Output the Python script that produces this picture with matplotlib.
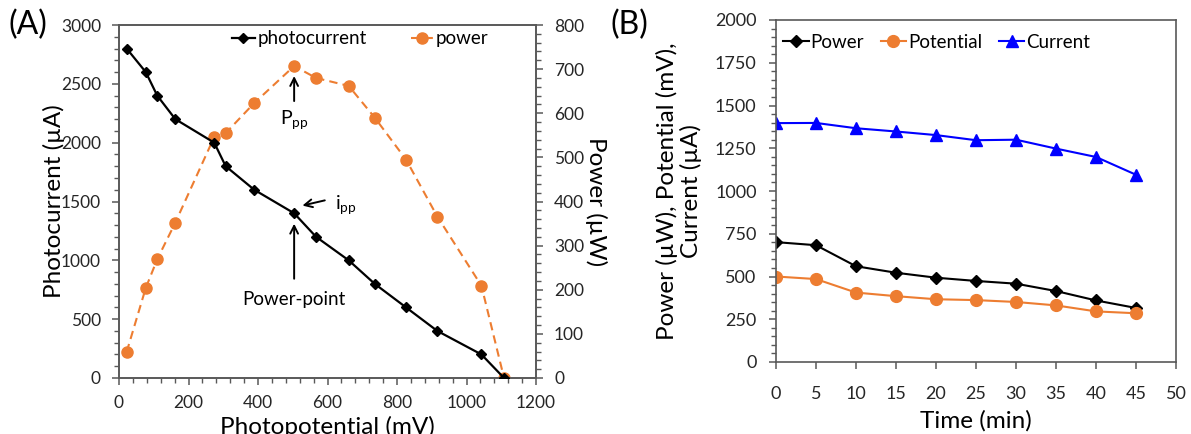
import matplotlib
matplotlib.use("Agg")
import matplotlib.pyplot as plt
from matplotlib.ticker import MultipleLocator

plt.rcParams['font.family'] = ['Lato', 'DejaVu Sans']

# Panel A data
photopotential = [22, 77, 110, 162, 274, 307, 389, 504, 567, 661, 736, 826, 916, 1043, 1108]
photocurrent = [2800, 2600, 2400, 2200, 2000, 1800, 1600, 1400, 1200, 1000, 800, 600, 400, 200, 0]
power_a = [59, 204, 269, 352, 546, 555, 623, 707, 680, 662, 590, 495, 366, 209, 0]

# Panel B data
time_min = [0, 5, 10, 15, 20, 25, 30, 35, 40, 45]
power_b = [701, 683, 560, 522, 493, 474, 458, 415, 360, 316]
potential_b = [500, 485, 406, 385, 367, 362, 351, 331, 296, 285]
current_b = [1397, 1398, 1367, 1348, 1327, 1297, 1300, 1248, 1199, 1095]

ORANGE = '#ED7D31'
BLUE = '#0000FF'
SPINE = '#595959'
LABEL_FS = 17.5

fig = plt.figure(figsize=(11.91, 4.34), dpi=100)

# ---------- Panel A ----------
ax = fig.add_axes([119/1191, 1-378/434, (536-119)/1191, (378-25)/434])
ax2 = ax.twinx()
l1, = ax.plot(photopotential, photocurrent, color='black', lw=1.6, marker='D',
              markersize=5.5, label='photocurrent', zorder=3)
l2, = ax2.plot(photopotential, power_a, color=ORANGE, lw=1.5, ls=(0, (4, 2.5)), marker='o',
               markersize=8, label='power', zorder=2)
ax.set_zorder(ax2.get_zorder() + 1)
ax.patch.set_visible(False)

ax.set_xlim(0, 1200)
ax.set_ylim(0, 3000)
ax2.set_ylim(0, 800)
ax.xaxis.set_major_locator(MultipleLocator(200))
ax.xaxis.set_minor_locator(MultipleLocator(40))
ax.yaxis.set_major_locator(MultipleLocator(500))
ax.yaxis.set_minor_locator(MultipleLocator(100))
ax2.yaxis.set_major_locator(MultipleLocator(100))
ax2.yaxis.set_minor_locator(MultipleLocator(20))

for a in (ax, ax2):
    for s in a.spines.values():
        s.set_color(SPINE)
        s.set_linewidth(1.2)
    a.tick_params(which='major', direction='out', length=5, width=1.1, color=SPINE,
                  labelsize=12.5, labelcolor='#262626')
    a.tick_params(which='minor', direction='out', length=3.5, width=1.0, color=SPINE)
ax.tick_params(axis='y', which='major', pad=8)
ax.tick_params(axis='x', which='major', pad=7)
ax2.tick_params(axis='y', which='both', right=True, left=False)
ax2.tick_params(axis='y', which='major', pad=8)

ax.set_xlabel('Photopotential (mV)', fontsize=LABEL_FS)
ax.set_ylabel('Photocurrent (µA)', fontsize=LABEL_FS)
ax2.set_ylabel('Power (µW)', fontsize=LABEL_FS, rotation=270)
ax.xaxis.label.set_va('center')
ax.yaxis.label.set_va('center')
ax2.yaxis.label.set_va('center')
ax.xaxis.set_label_coords(0.5, -0.139)
ax.yaxis.set_label_coords(-0.157, 0.5)
ax2.yaxis.set_label_coords(1.145, 0.5)

ax.legend(handles=[l1, l2], loc='upper left', bbox_to_anchor=(0.271, 0.985), ncol=2,
          frameon=False, fontsize=13.5, handlelength=1.2, handletextpad=0.15,
          columnspacing=2.35, borderpad=0, borderaxespad=0)

arrow = dict(arrowstyle='->', color='black', lw=1.4, mutation_scale=14)
ax.annotate('', xy=(504, 2590), xytext=(504, 2330), arrowprops=arrow)
ax.text(504, 2190, r'P$_{\mathregular{pp}}$', ha='center', va='center', fontsize=14)
ax.annotate('', xy=(520, 1460), xytext=(600, 1515), arrowprops=arrow)
ax.text(622, 1470, r'i$_{\mathregular{pp}}$', ha='left', va='center', fontsize=14)
ax.annotate('', xy=(504, 1335), xytext=(504, 820), arrowprops=arrow)
ax.text(504, 670, 'Power-point', ha='center', va='center', fontsize=13.5)

fig.text(8/1191, 1-25/434, '(A)', fontsize=23, ha='left', va='center')

# ---------- Panel B ----------
bx = fig.add_axes([776/1191, 1-362/434, (1176-776)/1191, (362-20)/434])
bx.plot(time_min, power_b, color='black', lw=1.5, marker='D', markersize=6, label='Power')
bx.plot(time_min, potential_b, color=ORANGE, lw=1.5, marker='o', markersize=8.5, label='Potential')
bx.plot(time_min, current_b, color=BLUE, lw=1.5, marker='^', markersize=8, label='Current')
bx.set_xlim(0, 50)
bx.set_ylim(0, 2000)
bx.xaxis.set_major_locator(MultipleLocator(5))
bx.yaxis.set_major_locator(MultipleLocator(250))
bx.yaxis.set_minor_locator(MultipleLocator(50))
for s in bx.spines.values():
    s.set_color(SPINE)
    s.set_linewidth(1.2)
bx.tick_params(which='major', direction='out', length=5, width=1.1, color=SPINE,
               labelsize=13, labelcolor='#262626')
bx.tick_params(which='minor', direction='out', length=3.5, width=1.0, color=SPINE)
bx.tick_params(axis='x', pad=12)
bx.tick_params(axis='y', which='major', pad=9)
bx.set_xlabel('Time (min)', fontsize=LABEL_FS)
bx.set_ylabel('Power (µW), Potential (mV),\nCurrent (µA)', fontsize=LABEL_FS,
              linespacing=1.15)
bx.xaxis.label.set_va('center')
bx.yaxis.label.set_va('center')
bx.xaxis.set_label_coords(0.5, -0.1725)
bx.yaxis.set_label_coords(-0.2425, 0.5)
bx.legend(loc='upper left', bbox_to_anchor=(0.018, 0.96), ncol=3, frameon=False,
          fontsize=13.5, handlelength=1.35, handletextpad=0.1, columnspacing=0.9,
          borderpad=0, borderaxespad=0)

fig.text(610/1191, 1-25/434, '(B)', fontsize=23, ha='left', va='center')

fig.savefig('out.png', dpi=100)
